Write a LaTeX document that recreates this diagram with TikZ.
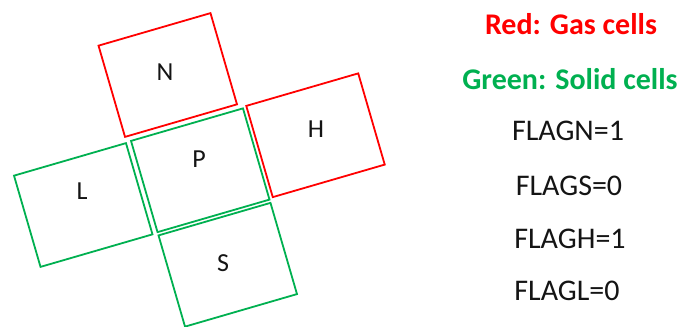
\documentclass[tikz,border=0pt]{standalone}
\usepackage{fontspec}
\setmainfont{Carlito}
\definecolor{gasred}{RGB}{255,0,0}
\definecolor{solidgreen}{RGB}{0,176,80}
\definecolor{txtgray}{RGB}{20,20,20}
\begin{document}
\begin{tikzpicture}[x=1pt,y=-1pt,
  cellbox/.style={draw, line width=1.8pt, rectangle, inner sep=0pt,
    minimum width=116.6pt, minimum height=95pt, rotate=16.2},
  gascell/.style={cellbox, draw=gasred},
  solidcell/.style={cellbox, draw=solidgreen},
  celllabel/.style={font=\fontsize{26}{30}\selectfont, text=txtgray, inner sep=0pt},
  legend/.style={font=\fontsize{30}{36}\selectfont, inner sep=0pt, anchor=base},
  flagtext/.style={legend, text=txtgray}]
\useasboundingbox (0,0) rectangle (684,326);
% gas cells
\node[gascell] (N) at (167.75,75) {};
\node[gascell] (H) at (315.5,135.25) {};
% solid cells
\node[solidcell] (P) at (200.25,170.25) {};
\node[solidcell] (L) at (83.25,205) {};
\node[solidcell] (S) at (227.75,264.75) {};
% labels
\node[celllabel] (Nl) at (165,72) {N};
\node[celllabel] (Pl) at (199,159) {P};
\node[celllabel] (Hl) at (316,129) {H};
\node[celllabel] (Ll) at (82,191) {L};
\node[celllabel] (Sl) at (223,263) {S};
% legend
\node[legend, text=gasred, font=\fontsize{30}{36}\selectfont\bfseries] (red) at (571,35) {Red: Gas cells};
\node[legend, text=solidgreen, font=\fontsize{30}{36}\selectfont\bfseries] (green) at (570,89) {Green: Solid cells};
\node[flagtext] (fn) at (568,140) {FLAGN=1};
\node[flagtext] (fs) at (569,195) {FLAGS=0};
\node[flagtext] (fh) at (570,248) {FLAGH=1};
\node[flagtext] (fl) at (567,300) {FLAGL=0};
\end{tikzpicture}
\end{document}
